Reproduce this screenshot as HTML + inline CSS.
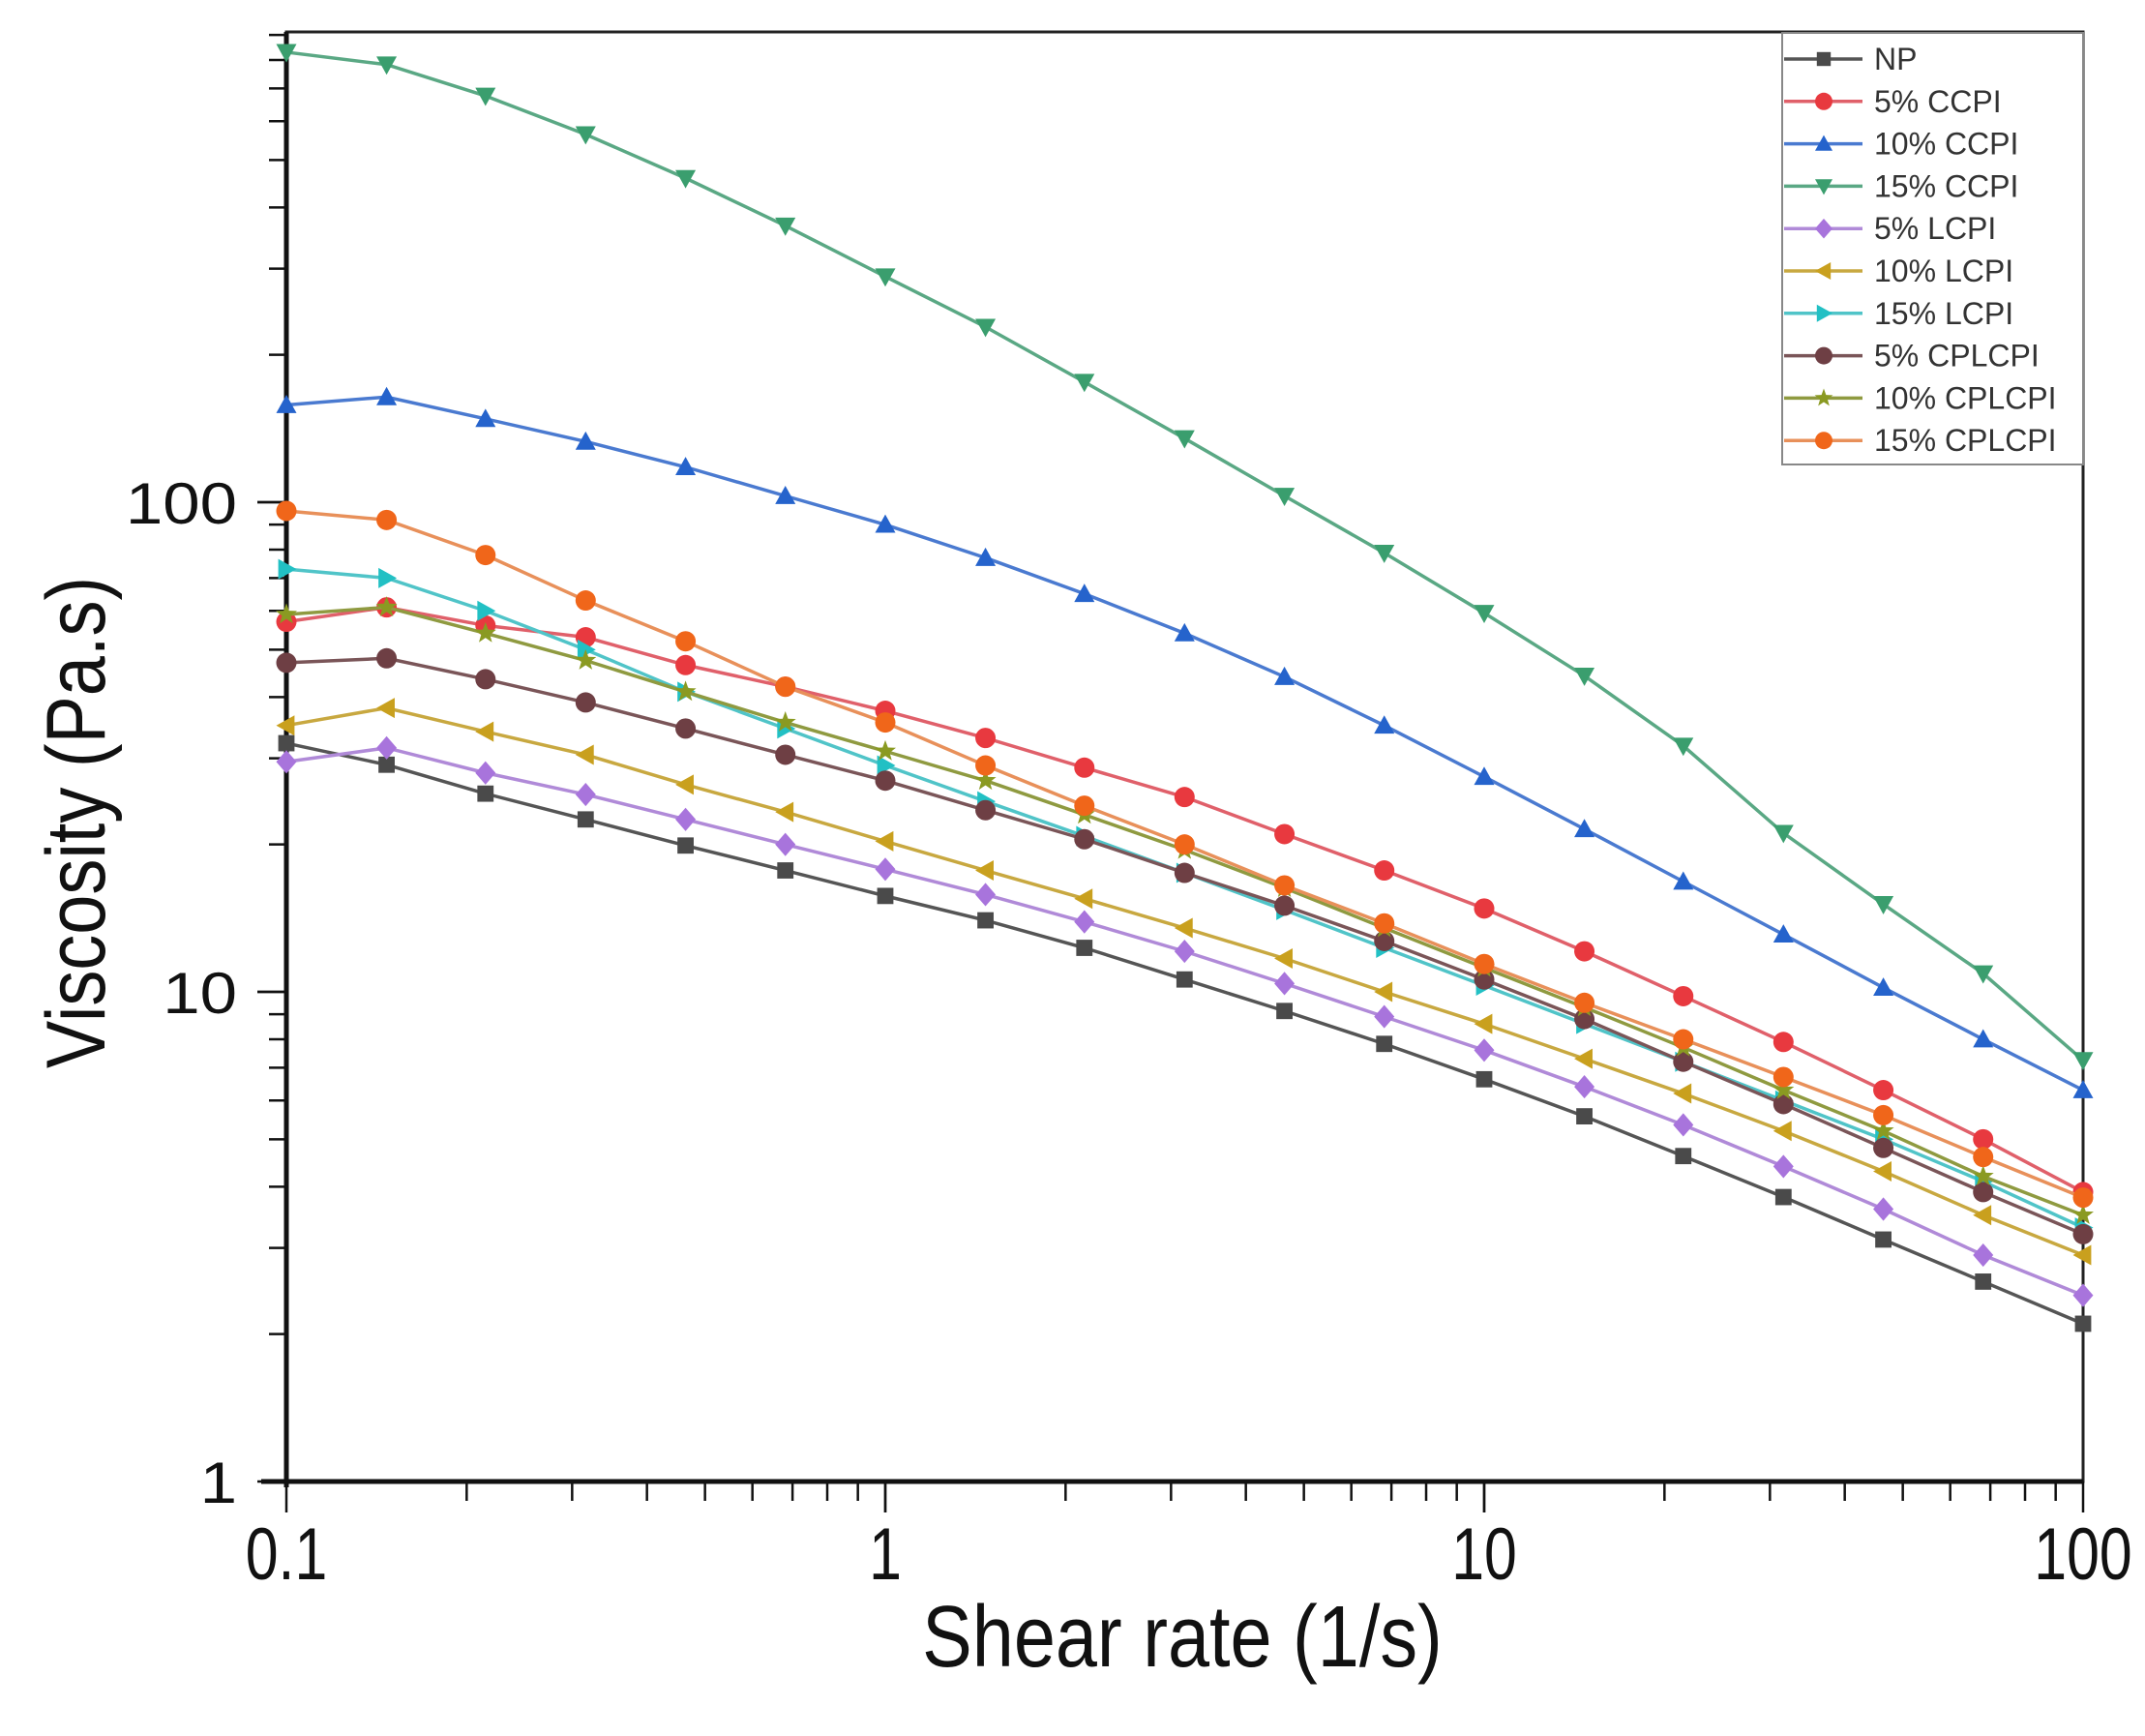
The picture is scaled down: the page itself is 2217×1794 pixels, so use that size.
<!DOCTYPE html>
<html><head><meta charset="utf-8"><style>
html,body{margin:0;padding:0;background:#fff;}
svg{display:block;}
text{font-family:"Liberation Sans",sans-serif;}
</style></head><body>
<svg id="chart" width="2217" height="1794" viewBox="0 0 2217 1794" xmlns="http://www.w3.org/2000/svg">
<rect x="0" y="0" width="2217" height="1794" fill="#fff"/>
<g id="grid"></g>
<g id="series"></g>
<g id="legend"></g>
</svg>
<script>
const shearRates = [0.1,0.147,0.215,0.316,0.464,0.681,1,1.47,2.15,3.16,4.64,6.81,10,14.7,21.5,31.6,46.4,68.1,100];
const xTickLabels = ["0.1","1","10","100"];
const yTickLabels = ["1","10","100"];
const seriesNames = ["NP","5% CCPI","10% CCPI","15% CCPI","5% LCPI","10% LCPI","15% LCPI","5% CPLCPI","10% CPLCPI","15% CPLCPI"];
const npVals = [32.2,29.1,25.4,22.5,19.9,17.7,15.7,14.0,12.3,10.6,9.14,7.83,6.63,5.57,4.62,3.81,3.12,2.56,2.10];
const ccpi5Vals = [57,61,56,53,46.5,42,37.5,33,28.7,25,21,17.7,14.8,12.1,9.8,7.9,6.3,5.0,3.9];
const ccpi10Vals = [158,164,148,133,118,103,90,77,65,54,44,35,27.5,21.5,16.8,13.1,10.2,8.0,6.3];
const ccpi15Vals = [830,783,676,564,459,367,289,228,176,135,103,78.8,59.4,44.2,31.8,21.1,15.1,10.9,7.25];
const lcpi5Vals = [29.5,31.5,28,25.3,22.5,20,17.8,15.8,13.9,12.1,10.4,8.9,7.6,6.4,5.35,4.4,3.6,2.9,2.4];
const lcpi10Vals = [35,38,34,30.5,26.5,23.3,20.3,17.7,15.5,13.5,11.7,10,8.6,7.3,6.2,5.2,4.3,3.5,2.9];
const lcpi15Vals = [73,70,60,50,41,34.5,29,24.5,20.8,17.5,14.7,12.3,10.3,8.6,7.2,6.0,5.0,4.1,3.3];
const cplcpi5Vals = [47,48,43.5,39,34.5,30.5,27,23.5,20.5,17.5,15,12.7,10.6,8.8,7.2,5.9,4.8,3.9,3.2];
const cplcpi10Vals = [59,61,54,47.5,41,35.5,31,27,23,19.5,16.3,13.5,11.2,9.3,7.7,6.3,5.2,4.2,3.5];
const cplcpi15Vals = [96,92,78,63,52,42,35.5,29,24,20,16.5,13.8,11.4,9.5,8.0,6.7,5.6,4.6,3.8];

const allVals=[npVals,ccpi5Vals,ccpi10Vals,ccpi15Vals,lcpi5Vals,lcpi10Vals,lcpi15Vals,cplcpi5Vals,cplcpi10Vals,cplcpi15Vals];
const colors=["#4a4a4a","#e8393f","#2563cc","#3a9e6e","#a874dc","#c9a01e","#22c0c4","#6e3f44","#8a9a22","#f0661a"];
const lineColors=["#555","#e0606a","#4a7ad0","#5aa884","#b08ad8","#c8a840","#50c4c8","#7a5558","#8f9a40","#e8905a"];
const markers=["square","circle","tri-up","tri-down","diamond","tri-left","tri-right","circle","star","circle"];

const L=296,R=2153,T=33,B=1531;
const yDecade=506;
function xs(v){return L+(Math.log10(v)+1)*(R-L)/3;}
function ys(v){return B-Math.log10(v)*yDecade;}
const NS="http://www.w3.org/2000/svg";
function mk(tag,attrs,parent){const e=document.createElementNS(NS,tag);for(const k in attrs)e.setAttribute(k,attrs[k]);parent.appendChild(e);return e;}

const ax=document.getElementById('grid');
let fr=mk('rect',{x:L,y:T,width:R-L,height:B-T,fill:'none',stroke:'#222','stroke-width':3},ax);


let la=mk('line',{x1:L,y1:T,x2:L,y2:B+6,stroke:'#111','stroke-width':5},ax);


let ba=mk('line',{x1:L-26,y1:B,x2:R,y2:B,stroke:'#111','stroke-width':5},ax);


for(let d=-1;d<2;d++){for(let m=1;m<=10;m++){const v=m*Math.pow(10,d);const x=xs(v);const major=(m===1||m===10);
 const t=mk('line',{x1:x,y1:B,x2:x,y2:B+(major?32:20),stroke:'#111','stroke-width':2.5},ax);
 
 }}
xTickLabels.forEach(s=>{const v=parseFloat(s);const t=mk('text',{x:0,y:0,'font-size':76,'text-anchor':'middle',fill:'#111',transform:`translate(${xs(v)},1632) scale(0.8,1)`},ax);t.textContent=s;
 
 });
for(let d=0;d<3;d++){for(let m=1;m<=10;m++){const v=m*Math.pow(10,d);if(v>920)continue;const y=ys(v);const major=(m===1||m===10);
 const t=mk('line',{x1:L,y1:y,x2:L-(major?30:18),y2:y,stroke:'#111','stroke-width':2.5},ax);
 
 }}
yTickLabels.forEach(s=>{const v=parseFloat(s);const t=mk('text',{x:0,y:0,'font-size':60,'text-anchor':'end',fill:'#111',transform:`translate(245,${ys(v)+22}) scale(1.15,1)`},ax);t.textContent=s;
 
 });
let xt=mk('text',{x:0,y:0,'font-size':90,'text-anchor':'middle',fill:'#111',transform:'translate(1222,1722) scale(0.86,1)'},ax);xt.textContent='Shear rate (1/s)';


let yt=mk('text',{x:0,y:0,'font-size':86,'text-anchor':'middle',fill:'#111',transform:'translate(108,850) rotate(-90) scale(0.86,1)'},ax);yt.textContent='Viscosity (Pa.s)';



function marker(g,type,x,y,c,s){
 let e;
 if(type==='square')e=mk('rect',{x:x-s*0.8,y:y-s*0.8,width:s*1.6,height:s*1.6,fill:c},g);
 else if(type==='circle')e=mk('circle',{cx:x,cy:y,r:s,fill:c},g);
 else if(type==='diamond')e=mk('polygon',{points:`${x},${y-s*1.15} ${x+s},${y} ${x},${y+s*1.15} ${x-s},${y}`,fill:c},g);
 else if(type==='tri-up')e=mk('polygon',{points:`${x},${y-s} ${x+s},${y+s*0.8} ${x-s},${y+s*0.8}`,fill:c},g);
 else if(type==='tri-down')e=mk('polygon',{points:`${x},${y+s} ${x+s},${y-s*0.8} ${x-s},${y-s*0.8}`,fill:c},g);
 else if(type==='tri-left')e=mk('polygon',{points:`${x-s},${y} ${x+s*0.8},${y-s} ${x+s*0.8},${y+s}`,fill:c},g);
 else if(type==='tri-right')e=mk('polygon',{points:`${x+s},${y} ${x-s*0.8},${y-s} ${x-s*0.8},${y+s}`,fill:c},g);
 else {let p=[];for(let i=0;i<10;i++){const r=i%2?s*0.45:s*1.1;const a=-Math.PI/2+i*Math.PI/5;p.push((x+r*Math.cos(a))+','+(y+r*Math.sin(a)));}e=mk('polygon',{points:p.join(' '),fill:c},g);}
 return e;
}
const sg=document.getElementById('series');
allVals.forEach((vals,i)=>{
 const g=mk('g',{},sg);
 
 
 const pts=vals.map((v,j)=>xs(shearRates[j])+','+ys(v)).join(' ');
 const pl=mk('polyline',{points:pts,fill:'none',stroke:lineColors[i],'stroke-width':3.5},g);
 
 
 vals.forEach((v,j)=>{const m=marker(g,markers[i],xs(shearRates[j]),ys(v),colors[i],10.5);
  
  });
});
const lg=document.getElementById('legend');
let lb=mk('rect',{x:1842,y:34,width:311,height:446,fill:'#fff',stroke:'#888','stroke-width':2},lg);


seriesNames.forEach((n,i)=>{
 const y=61+i*43.8;
 const g=mk('g',{},lg);
 
 
 mk('line',{x1:1844,y1:y,x2:1925,y2:y,stroke:lineColors[i],'stroke-width':3.5},g);
 marker(g,markers[i],1885,y,colors[i],9);
 const t=mk('text',{x:1937,y:y+11,'font-size':32,fill:'#333'},g);t.textContent=n;
});
</script>
</body></html>
